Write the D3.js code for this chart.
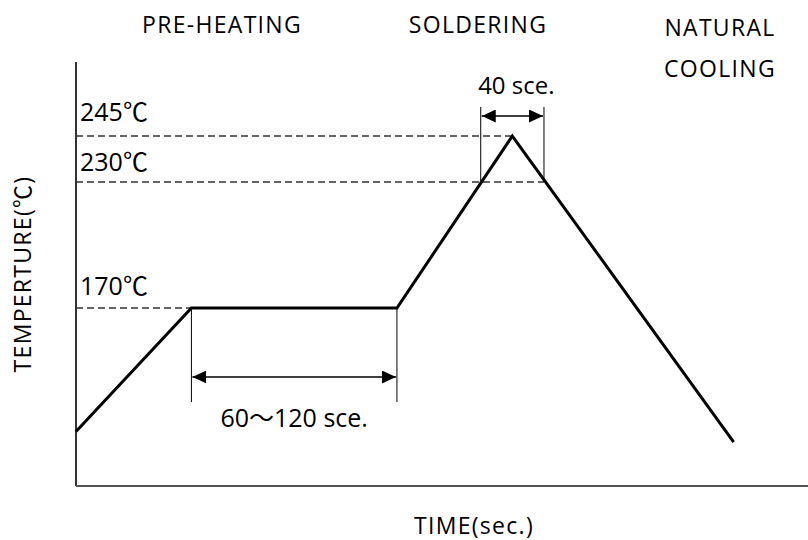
<!DOCTYPE html>
<meta charset="utf-8">
<script src="https://d3js.org/d3.v7.min.js"></script>
<style>
  body { margin: 0; background: #fff; }
  text { font-family: "Open Sans", "Noto Sans CJK SC", sans-serif; fill: #000; }
  .word { font-size: 23px; letter-spacing: 1.3px; }
</style>
<body>
<div id="my_dataviz"></div>
<script>

  // profile: time (schematic seconds) and temperature (℃)
  const profileTime = [0, 73, 203, 276, 416];
  const profileTemp = [52, 170, 170, 245, 42];

  // reference temperatures with dashed guide lines
  const refTemps = [245, 230, 170];
  const refLabels = ["245℃", "230℃", "170℃"];
  const refEndTime = [276, 296, 73];   // where each dashed line stops

  // span markers
  const preheatSpan = [73, 203];
  const solderSpan = [256, 296];
  const spanLabels = ["60～120 sce.", "40 sce."];

  const phaseLabels = [["PRE-HEATING"], ["SOLDERING"], ["NATURAL", "COOLING"]];
  const axisLabels = ["TIME(sec.)", "TEMPERTURE(℃)"];

  const width = 808, height = 540;
  const origin = {x: 76, y: 486};

  const svg = d3.select("#my_dataviz")
    .append("svg")
    .attr("width", width)
    .attr("height", height);

  // scales
  const x = d3.scaleLinear().domain([0, 463]).range([origin.x, width]);
  // schematic drawing, so the temperature axis is piecewise
  const y = d3.scaleLinear()
    .domain([0, 170, 230, 245])
    .range([origin.y, 308, 182, 136]);

  // arrow heads
  const defs = svg.append("defs");
  ["start", "end"].forEach(k => {
    defs.append("marker")
      .attr("id", "arrow-" + k)
      .attr("viewBox", "0 0 14 13")
      .attr("refX", k == "end" ? 14 : 0)
      .attr("refY", 6.5)
      .attr("markerWidth", 14)
      .attr("markerHeight", 13)
      .attr("markerUnits", "userSpaceOnUse")
      .attr("orient", "auto")
      .append("path")
      .attr("d", k == "end" ? "M0,0 L14,6.5 L0,13 Z" : "M14,0 L0,6.5 L14,13 Z")
      .attr("fill", "#000");
  });

  // axes (plain lines, no ticks)
  svg.append("line")
    .attr("x1", origin.x).attr("x2", origin.x)
    .attr("y1", 62).attr("y2", origin.y)
    .attr("stroke", "#333").attr("stroke-width", 2);
  svg.append("line")
    .attr("x1", origin.x).attr("x2", width)
    .attr("y1", origin.y).attr("y2", origin.y)
    .attr("stroke", "#555").attr("stroke-width", 2);

  // dashed reference lines
  svg.selectAll(".ref")
    .data(refTemps)
    .join("line")
      .attr("class", "ref")
      .attr("x1", origin.x)
      .attr("x2", (d, i) => x(refEndTime[i]))
      .attr("y1", d => y(d))
      .attr("y2", d => y(d))
      .attr("stroke", "#333")
      .attr("stroke-width", 1.3)
      .attr("stroke-dasharray", "7,4");

  const refLift = [15, 11, 13];
  svg.selectAll(".refLabel")
    .data(refTemps)
    .join("text")
      .attr("class", "refLabel")
      .attr("x", origin.x + 4)
      .attr("y", (d, i) => y(d) - refLift[i])
      .style("font-size", "25px")
      .text((d, i) => refLabels[i]);

  // extension lines for spans
  const ext = [
    {t: preheatSpan[0], y1: y(170), y2: 402},
    {t: preheatSpan[1], y1: y(170), y2: 402},
    {t: solderSpan[0], y1: 107, y2: y(230)},
    {t: solderSpan[1], y1: 107, y2: y(230)}
  ];
  svg.selectAll(".ext")
    .data(ext)
    .join("line")
      .attr("class", "ext")
      .attr("x1", d => x(d.t)).attr("x2", d => x(d.t))
      .attr("y1", d => d.y1).attr("y2", d => d.y2)
      .attr("stroke", "#000").attr("stroke-width", 1);

  // span arrows
  const spans = [
    {s: preheatSpan, yy: 377, label: spanLabels[0], ly: 427, dx: 0, fs: 25},
    {s: solderSpan, yy: 116, label: spanLabels[1], ly: 94, dx: 4, fs: 24}
  ];
  svg.selectAll(".span")
    .data(spans)
    .join("line")
      .attr("class", "span")
      .attr("x1", d => x(d.s[0]) + 1).attr("x2", d => x(d.s[1]) - 1)
      .attr("y1", d => d.yy).attr("y2", d => d.yy)
      .attr("stroke", "#000").attr("stroke-width", 1.6)
      .attr("marker-start", "url(#arrow-start)")
      .attr("marker-end", "url(#arrow-end)");
  svg.selectAll(".spanLabel")
    .data(spans)
    .join("text")
      .attr("class", "spanLabel")
      .attr("x", d => (x(d.s[0]) + x(d.s[1])) / 2 + d.dx)
      .attr("y", d => d.ly)
      .attr("text-anchor", "middle")
      .style("font-size", d => d.fs + "px")
      .text(d => d.label);

  // profile line
  const line = d3.line()
    .x((d, i) => x(profileTime[i]))
    .y(d => y(d));
  svg.append("path")
    .datum(profileTemp)
    .attr("d", line)
    .attr("fill", "none")
    .attr("stroke", "#000")
    .attr("stroke-width", 3)
    .attr("stroke-linejoin", "miter");

  // phase labels
  const phaseX = [222, 478, 720];
  const phaseY = [33, 33, 36];
  phaseLabels.forEach((lines, i) => {
    lines.forEach((t, j) => {
      svg.append("text")
        .attr("class", "word")
        .attr("x", phaseX[i])
        .attr("y", phaseY[i] + j * 41)
        .attr("text-anchor", "middle")
        .text(t);
    });
  });

  // axis titles
  svg.append("text")
    .attr("class", "word")
    .attr("x", 474)
    .attr("y", 534)
    .attr("text-anchor", "middle")
    .text(axisLabels[0]);
  svg.append("text")
    .attr("class", "word")
    .attr("transform", "translate(31,274) rotate(-90)")
    .attr("text-anchor", "middle")
    .text(axisLabels[1]);

</script>
</body>
